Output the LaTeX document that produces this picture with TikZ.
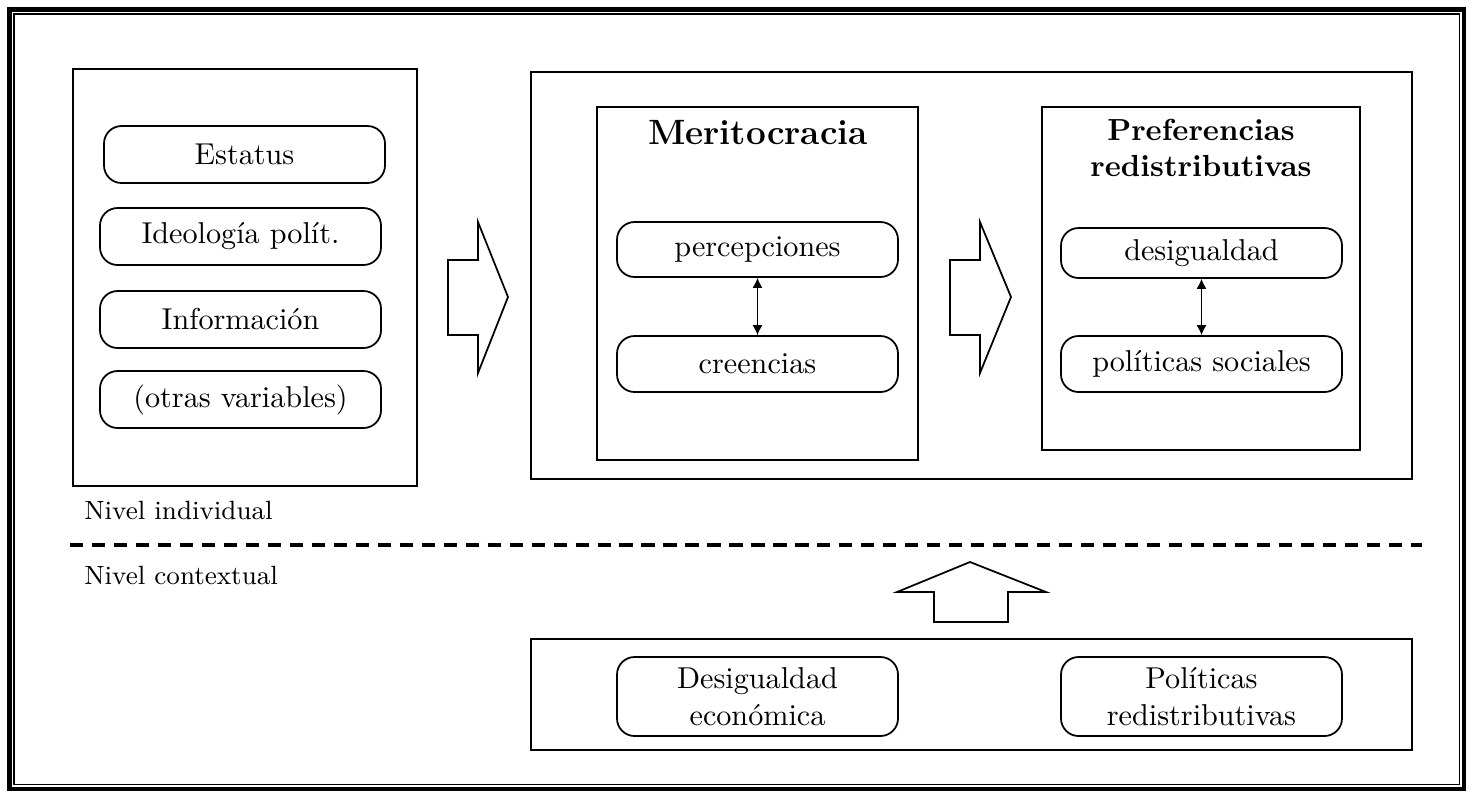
\documentclass[tikz,border=0pt]{standalone}
\usepackage{amsmath,amssymb}
\usepackage{xcolor}
\usepackage{tikz}
\usetikzlibrary{arrows.meta,calc,positioning}
\tikzset{
  varbox/.style={draw,rounded corners=6pt,semithick,minimum width=281*0.012cm,minimum height=57*0.012cm,align=center,font=\fontsize{10.3}{12.8}\selectfont,inner sep=0pt},
  panel/.style={draw,thin},
  blockarrow/.style={draw,semithick,line join=miter,fill=white},
  twoway/.style={<->,thin,>={Latex[length=3.4pt,width=3.4pt]}},
}

\begin{document}
\begin{tikzpicture}[x=0.012cm,y=-0.012cm,>=Latex]
\useasboundingbox (0,0) rectangle (1473,797);
% marco
\draw[line width=1.6pt] (9.5,9.5) rectangle (1464,789);
\draw[line width=0.4pt] (14,14) rectangle (1459.5,784.5);
% nivel individual
\draw[panel] (73,69) rectangle (417,486);
\node[varbox] (estatus) at (244.5,154.5) {Estatus};
\node[varbox] (ideol) at (240.5,236.5) {Ideología polít.};
\node[varbox] (info) at (240.5,319.5) {Información};
\node[varbox] (otras) at (240.5,399.5) {(otras variables)};
\node[anchor=base west,font=\small] (nivind) at (74,519) {Nivel individual};
\draw[line width=1.2pt,dash pattern=on 4.5pt off 3pt] (70,545) -- (1422,545);
\node[anchor=base west,font=\small] (nivctx) at (74,584) {Nivel contextual};
% flecha 1
\draw[blockarrow] (448,260) -- (478,260) -- (478,222) -- (508,297) -- (478,373) -- (478,335) -- (448,335) -- cycle;
% bloque central
\draw[thick] (531,72) rectangle (1412,479);
\draw[panel] (597,107) rectangle (918,460);
\node[font=\large\bfseries] (merit) at (758,133) {Meritocracia};
\node[varbox,minimum height=55*0.012cm] (percep) at (757.5,249.5) {percepciones};
\node[varbox,minimum height=56*0.012cm] (creen) at (757.5,364) {creencias};
\draw[twoway] (percep) -- (creen);
% flecha 2
\draw[blockarrow] (950,260) -- (980,260) -- (980,222) -- (1011,297) -- (980,373) -- (980,335) -- (950,335) -- cycle;
\draw[panel] (1042,107) rectangle (1360,450);
\node[font=\fontsize{10.4}{12.4}\selectfont\bfseries,align=center] (pref) at (1201,148) {Preferencias\\redistributivas};
\node[varbox,minimum height=50*0.012cm] (desig) at (1201.5,253) {desigualdad};
\node[varbox,minimum height=56*0.012cm] (polsoc) at (1201.5,364) {políticas sociales};
\draw[twoway] (desig) -- (polsoc);
% flecha hacia arriba
\draw[blockarrow] (934,622) -- (934,592) -- (897,592) -- (970,562) -- (1046,592) -- (1008,592) -- (1008,622) -- cycle;
% nivel contextual
\draw[panel] (531,639) rectangle (1412,750);
\node[varbox,minimum height=79*0.012cm] (desecon) at (757.5,696.5) {Desigualdad\\económica};
\node[varbox,minimum height=79*0.012cm] (polred) at (1201.5,696.5) {Políticas\\redistributivas};
\end{tikzpicture}
\end{document}
